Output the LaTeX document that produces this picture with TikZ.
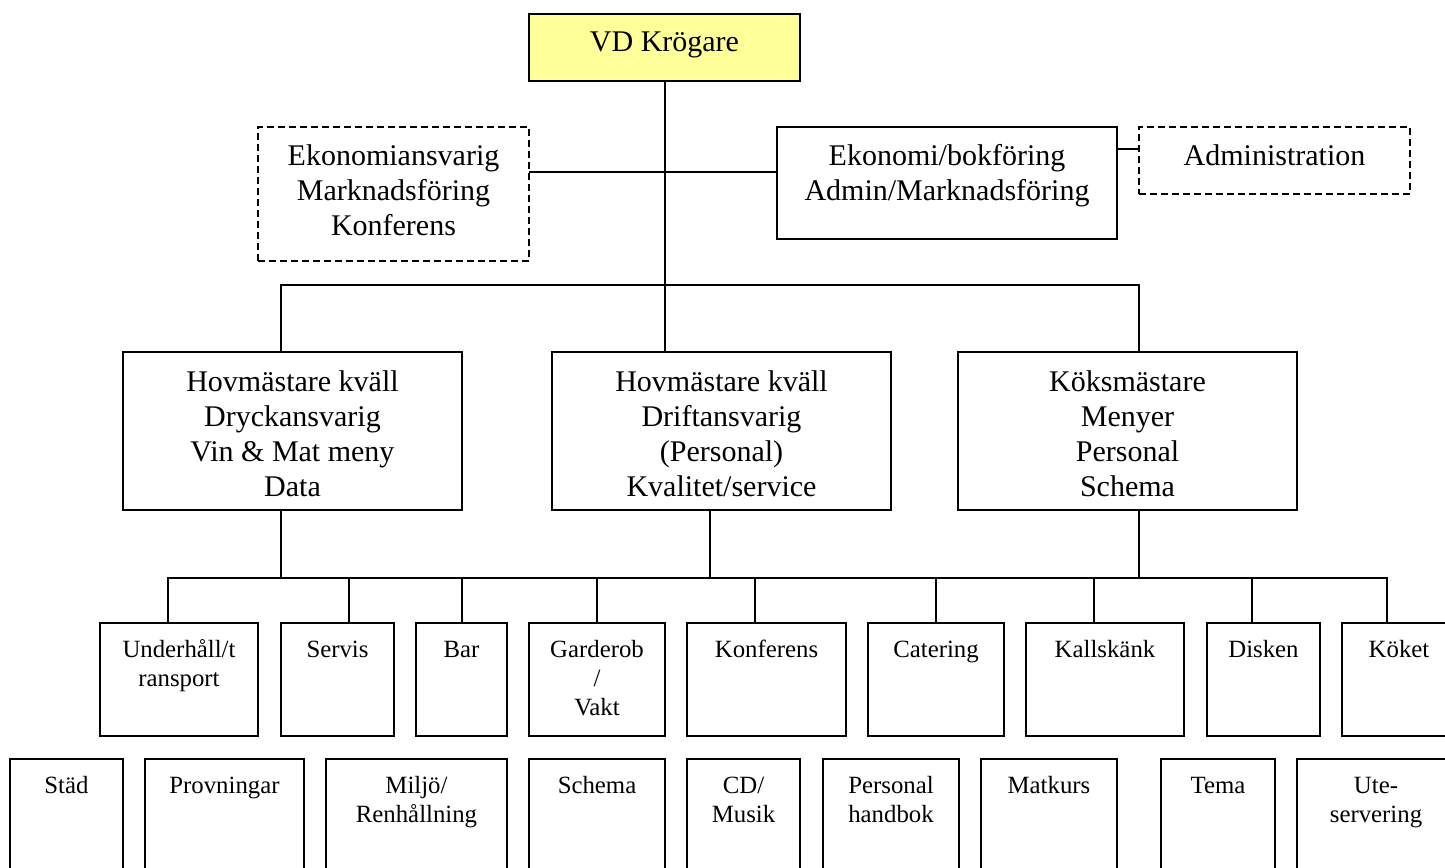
\documentclass[tikz,border=0pt]{standalone}
\usepackage{fontspec}
\setmainfont{Liberation Serif}
\newcommand\fntA{\fontsize{30}{35}\selectfont}
\newcommand\fntB{\fontsize{24.8}{29}\selectfont}
\newcommand\mlines[1]{\begin{tabular}[t]{@{}c@{}}#1\end{tabular}}
\definecolor{vdyellow}{HTML}{FFFF99}
\tikzset{
  conn/.style={line width=1.7pt},
  solidbox/.style={draw, line width=1.7pt, anchor=north west, inner sep=0pt, outer sep=0pt},
  dashbox/.style={solidbox, dash pattern=on 7pt off 4pt},
  txtA/.style={anchor=base, inner sep=0pt, font=\fntA},
  txtB/.style={anchor=base, inner sep=0pt, font=\fntB},
}
\begin{document}
\begin{tikzpicture}[x=1pt,y=-1pt]
\useasboundingbox (0,0) rectangle (1445,867);
\fill[white] (0,0) rectangle (1445,867);
\clip (0,0) rectangle (1445,867);

% top level
\node[solidbox, fill=vdyellow, minimum width=271pt, minimum height=67pt] (vd) at (529,14) {};
\node[txtA] (vdt) at ([yshift=-38pt]vd.north) {VD Krögare};

\node[dashbox, minimum width=271pt, minimum height=134pt] (ekl) at (258,127) {};
\node[txtA] (eklt) at ([yshift=-38pt]ekl.north) {\mlines{Ekonomiansvarig\\Marknadsföring\\Konferens}};

\node[solidbox, minimum width=340pt, minimum height=112pt] (ekon) at (777,127) {};
\node[txtA] (ekont) at ([yshift=-38pt]ekon.north) {\mlines{Ekonomi/bokföring\\Admin/Marknadsföring}};

\node[dashbox, minimum width=271pt, minimum height=67pt] (adm) at (1139,127) {};
\node[txtA] (admt) at ([yshift=-38pt]adm.north) {Administration};

% level 2
\node[solidbox, minimum width=339pt, minimum height=158pt] (l2l) at (123,352) {};
\node[txtA] (l2lt) at ([yshift=-39pt]l2l.north) {\mlines{Hovmästare kväll\\Dryckansvarig\\Vin \& Mat meny\\Data}};
\node[solidbox, minimum width=339pt, minimum height=158pt] (l2m) at (552,352) {};
\node[txtA] (l2mt) at ([yshift=-39pt]l2m.north) {\mlines{Hovmästare kväll\\Driftansvarig\\(Personal)\\Kvalitet/service}};
\node[solidbox, minimum width=339pt, minimum height=158pt] (l2r) at (958,352) {};
\node[txtA] (l2rt) at ([yshift=-39pt]l2r.north) {\mlines{Köksmästare\\Menyer\\Personal\\Schema}};

% level 3
\foreach \n/\x/\w/\t in {a/100/158/{Underhåll/t\\ransport}, b/281/113/{Servis}, c/416/91/{Bar},
    d/529/136/{Garderob\\/\\Vakt}, e/687/159/{Konferens}, f/868/136/{Catering},
    g/1026/158/{Kallskänk}, h/1207/113/{Disken}, i/1342/114/{Köket}} {
  \node[solidbox, minimum width=\w pt, minimum height=113pt] (l3\n) at (\x,623) {};
  \node[txtB] (l3\n t) at ([yshift=-34pt]l3\n.north) {\mlines{\t}};
}

% level 4
\foreach \n/\x/\w/\t in {a/10/113/{Städ}, b/145/159/{Provningar}, c/326/181/{Miljö/\\Renhållning},
    d/529/136/{Schema}, e/687/113/{CD/\\Musik}, f/823/136/{Personal\\handbok},
    g/981/136/{Matkurs}, h/1161/114/{Tema}, i/1297/158/{Ute-\\servering}} {
  \node[solidbox, minimum width=\w pt, minimum height=121pt] (l4\n) at (\x,759) {};
  \node[txtB] (l4\n t) at ([yshift=-34pt]l4\n.north) {\mlines{\t}};
}

% connectors, top
\coordinate (v) at (665,0);
\draw[conn] (v |- vd.south) -- (v |- l2m.north);
\coordinate (c1) at (0,172);
\draw[conn] (ekl.east |- c1) -- (ekon.west |- c1);
\coordinate (c2) at (0,149);
\draw[conn] (ekon.east |- c2) -- (adm.west |- c2);
\coordinate (b1l) at (281,285);
\coordinate (b1r) at (1139,285);
\draw[conn] (b1l |- l2l.north) -- (b1l) -- (b1r) -- (b1r |- l2r.north);

% level 2 -> level 3
\coordinate (d1) at (281,578);
\coordinate (d2) at (710,578);
\coordinate (d3) at (1139,578);
\draw[conn] (d1 |- l2l.south) -- (d1);
\draw[conn] (d2 |- l2m.south) -- (d2);
\draw[conn] (d3 |- l2r.south) -- (d3);
\foreach \n/\x in {a/168, b/349, c/462, d/597, e/755, f/936, g/1094, h/1252, i/1387} {
  \coordinate (t\n) at (\x,578);
}
\draw[conn] (ta |- l3a.north) -- (ta) -- (ti) -- (ti |- l3i.north);
\foreach \n in {b,c,d,e,f,g,h} {
  \draw[conn] (t\n) -- (t\n |- l3\n.north);
}
\end{tikzpicture}
\end{document}
